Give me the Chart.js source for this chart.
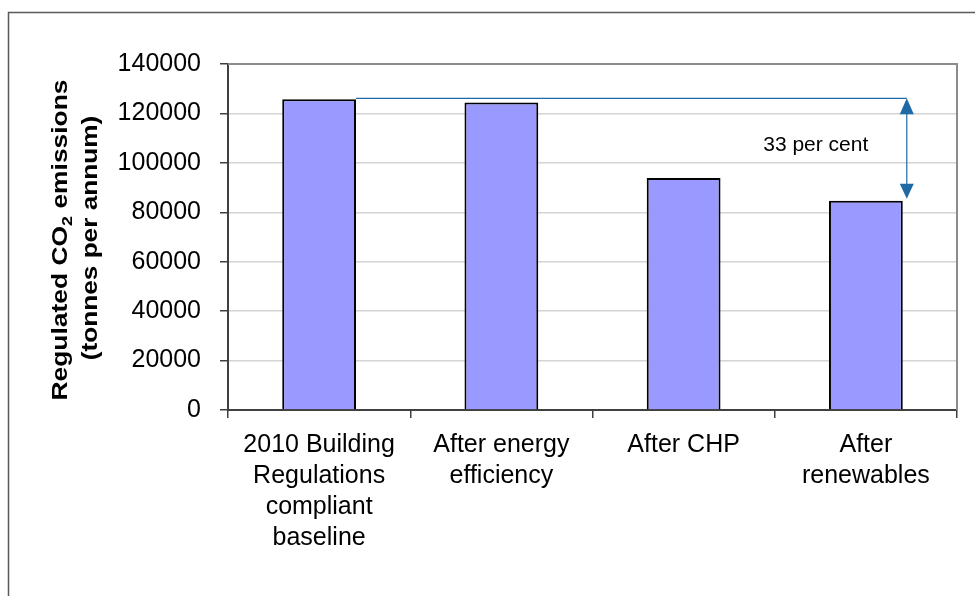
<!DOCTYPE html>
<html>
<head>
<meta charset="utf-8">
<script src="https://cdn.jsdelivr.net/npm/chart.js@4/dist/chart.umd.min.js"></script>
<style>
  html, body { margin: 0; padding: 0; background: #fff; }
  #wrap { width: 975px; height: 596px; position: relative; }
</style>
</head>
<body>
<div id="wrap"><canvas id="c" width="975" height="596"></canvas></div>
<script>
// Regulated CO2 emissions at each stage of the energy hierarchy
const categories = [
  ['2010 Building', 'Regulations', 'compliant', 'baseline'],
  ['After energy', 'efficiency'],
  ['After CHP'],
  ['After', 'renewables']
];
const emissions = [125700, 124400, 93900, 84700];
const yTicks = [0, 20000, 40000, 60000, 80000, 100000, 120000, 140000];
const reductionLabel = '33 per cent';

const FONT = '"Liberation Sans", Arial, sans-serif';
const ARROW = '#1F6AA5';

// Frame, plot border, axis title and the reduction arrow
const decorations = {
  id: 'decorations',
  beforeDraw(chart) {
    const ctx = chart.ctx;
    ctx.save();
    ctx.fillStyle = '#fff';
    ctx.fillRect(0, 0, chart.width, chart.height);
    ctx.strokeStyle = '#5a5a5a';
    ctx.lineWidth = 1.5;
    ctx.strokeRect(8.5, 12.5, chart.width + 20, chart.height + 20);
    ctx.restore();
  },
  afterDatasetsDraw(chart) {
    const ctx = chart.ctx;
    const area = chart.chartArea;
    const y = chart.scales.y;
    ctx.save();

    // plot-area border (top and right)
    ctx.strokeStyle = '#8c8c8c';
    ctx.lineWidth = 2;
    ctx.beginPath();
    ctx.moveTo(area.left, area.top);
    ctx.lineTo(area.right, area.top);
    ctx.lineTo(area.right, area.bottom);
    ctx.stroke();

    // reference line from the baseline bar across to the arrow
    const meta = chart.getDatasetMeta(0);
    const b0 = meta.data[0];
    const b3 = meta.data[3];
    const yTop = y.getPixelForValue(emissions[0]);
    const yLow = y.getPixelForValue(emissions[3]);
    const ax = b3.x + b3.width / 2 + 4;
    ctx.strokeStyle = ARROW;
    ctx.lineWidth = 1.2;
    ctx.beginPath();
    ctx.moveTo(b0.x + b0.width / 2, yTop - 1);
    ctx.lineTo(ax, yTop - 1);
    ctx.stroke();

    // double-headed arrow
    const head = 15, hw = 7;
    ctx.beginPath();
    ctx.moveTo(ax, yTop + head - 2);
    ctx.lineTo(ax, yLow - head);
    ctx.stroke();
    ctx.fillStyle = ARROW;
    ctx.beginPath();
    ctx.moveTo(ax, yTop - 1);
    ctx.lineTo(ax - hw, yTop + head);
    ctx.lineTo(ax + hw, yTop + head);
    ctx.closePath();
    ctx.fill();
    ctx.beginPath();
    ctx.moveTo(ax, yLow - 2);
    ctx.lineTo(ax - hw, yLow - head - 2);
    ctx.lineTo(ax + hw, yLow - head - 2);
    ctx.closePath();
    ctx.fill();

    // reduction label
    ctx.fillStyle = '#000';
    ctx.font = '21px ' + FONT;
    ctx.textAlign = 'center';
    ctx.textBaseline = 'middle';
    ctx.fillText(reductionLabel, ax - 91, (yTop + yLow) / 2 - 5);

    // y-axis title with subscript (slightly widened lettering)
    const cy = (area.top + area.bottom) / 2 + 3;
    ctx.save();
    ctx.translate(61, cy);
    ctx.rotate(-Math.PI / 2);
    ctx.scale(1.2, 1);
    ctx.textBaseline = 'middle';
    ctx.textAlign = 'left';
    const big = 'bold 22px ' + FONT, small = 'bold 15px ' + FONT;
    const p1 = 'Regulated CO', p2 = '2', p3 = ' emissions';
    ctx.font = big;
    const w1 = ctx.measureText(p1).width, w3 = ctx.measureText(p3).width;
    ctx.font = small;
    const w2 = ctx.measureText(p2).width;
    const sx = -(w1 + w2 + w3) / 2;
    ctx.font = big;
    ctx.fillText(p1, sx, 0);
    ctx.font = small;
    ctx.fillText(p2, sx + w1, 7);
    ctx.font = big;
    ctx.fillText(p3, sx + w1 + w2, 0);
    ctx.restore();
    ctx.save();
    ctx.translate(91, cy - 2);
    ctx.rotate(-Math.PI / 2);
    ctx.scale(1.19, 1);
    ctx.font = big;
    ctx.textAlign = 'center';
    ctx.textBaseline = 'middle';
    ctx.fillText('(tonnes per annum)', 0, 0);
    ctx.restore();
    ctx.restore();
  }
};

new Chart(document.getElementById('c'), {
  type: 'bar',
  data: {
    labels: categories,
    datasets: [{
      data: emissions,
      backgroundColor: '#9999FF',
      borderColor: '#000',
      borderWidth: 2,
      borderSkipped: 'bottom',
      categoryPercentage: 1,
      barPercentage: 0.405
    }]
  },
  options: {
    responsive: false,
    animation: false,
    events: [],
    layout: { padding: { top: 64, right: 18, left: 0, bottom: 0 } },
    plugins: { legend: { display: false }, tooltip: { enabled: false } },
    scales: {
      x: {
        offset: true,
        grid: { offset: true, drawOnChartArea: false, tickLength: 8, color: '#404040', lineWidth: 1.5 },
        border: { color: '#404040', width: 2 },
        ticks: { color: '#000', font: { family: FONT, size: 25, lineHeight: 1.24 }, padding: 12, maxRotation: 0, autoSkip: false },
        afterFit(s) { s.height = 186; }
      },
      y: {
        min: 0, max: 140000,
        afterBuildTicks(s) { s.ticks = yTicks.map(v => ({ value: v })); },
        grid: { color: '#d4d4d4', lineWidth: 1.5, tickLength: 8, tickColor: '#404040', tickWidth: 1.5 },
        border: { color: '#404040', width: 2 },
        ticks: { color: '#000', font: { family: FONT, size: 25 }, padding: 19, callback: v => String(v) },
        afterFit(s) { s.width = 228; }
      }
    }
  },
  plugins: [decorations]
});
</script>
</body>
</html>
